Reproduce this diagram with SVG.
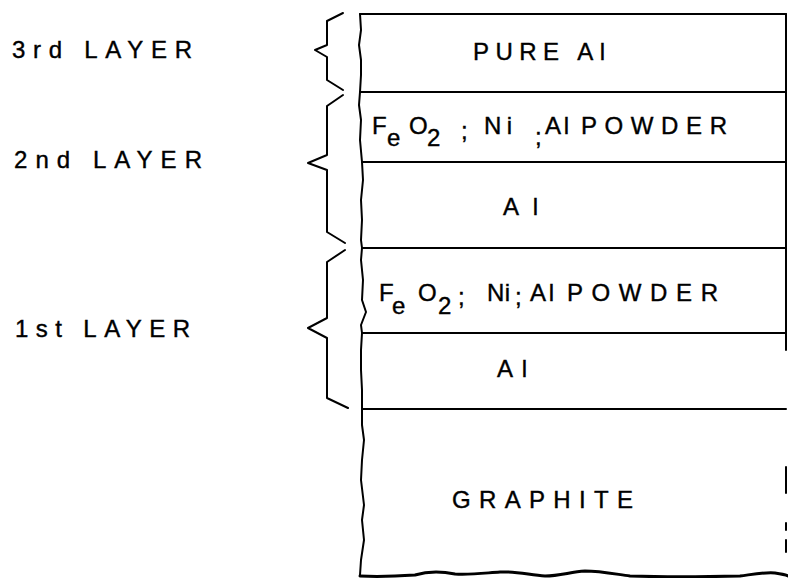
<svg xmlns="http://www.w3.org/2000/svg" width="788" height="578" viewBox="0 0 788 578">
<style>
.ln{fill:none;stroke:#000;stroke-width:2;stroke-linecap:round;stroke-linejoin:round}
.thick{fill:none;stroke:#000;stroke-width:3;stroke-linecap:round;stroke-linejoin:round}
.t{font-family:"Liberation Sans",Arial,sans-serif;font-size:24px;fill:#000;stroke:#000;stroke-width:0.4}
</style>
<rect width="788" height="578" fill="#fff"/>
<g id="labels">
<text class="t" x="12" y="58" textLength="180" lengthAdjust="spacing">3rd LAYER</text>
<text class="t" x="14" y="168" textLength="188" lengthAdjust="spacing">2nd LAYER</text>
<text class="t" x="15" y="337" textLength="175" lengthAdjust="spacing">1st LAYER</text>
</g>
<g id="connectors">
<path class="ln" d="M343,13 L327,21 L327,45 L315,50 L327,57 L327,80 L343,90"/>
<path class="ln" d="M343,95 L327,106 L327,155 L308,163 L327,170 L327,232 L345,243"/>
<path class="ln" d="M345,250 L327,262 L327,318 L308,328 L327,338 L327,398 L348,408"/>
</g>
<g id="box">
<path class="ln" d="M360,14 L361,30 L359,45 L361,60 L361,75 L360,92 L359,105 L361,120 L360,140 L362,162 L363,180 L361,200 L362,220 L361,240 L362,248 L361,260 L363,280 L362,300 L366,312 L361,325 L362,333 L361,350 L361,370 L362,390 L362,409 L362,425 L364,440 L362,460 L361,480 L364,505 L362,520 L364,540 L361,560 L360,575"/>
<path class="ln" d="M360,14 L786,14"/>
<path class="ln" d="M786,14 L786,92 M786,92 L786,162 L786,248 L786,350"/>
<path class="ln" d="M786,467 L786,493 M786,523 L786,530 M786,540 L786,552"/>
</g>
<g id="layer3">
<line class="ln" x1="360" y1="92" x2="786" y2="92"/>
<text class="t" x="473" y="60" textLength="132" lengthAdjust="spacing">PURE Al</text>
</g>
<g id="layer2-powder">
<line class="ln" x1="362" y1="162" x2="786" y2="162"/>
<text class="t" x="372" y="134">F</text>
<text class="t" x="387" y="146">e</text>
<text class="t" x="409" y="134">O</text>
<text class="t" x="427" y="146">2</text>
<text class="t" x="461" y="139">;</text>
<text class="t" x="484" y="134" textLength="28" lengthAdjust="spacing">Ni</text>
<text class="t" x="535" y="145">;</text>
<text class="t" x="545" y="134" textLength="24" lengthAdjust="spacing">Al</text>
<text class="t" x="581" y="134" textLength="146" lengthAdjust="spacing">POWDER</text>
</g>
<g id="layer2-al">
<line class="ln" x1="362" y1="248" x2="786" y2="248"/>
<text class="t" x="503" y="215" textLength="35" lengthAdjust="spacing">Al</text>
</g>
<g id="layer1-powder">
<line class="ln" x1="362" y1="333" x2="786" y2="333"/>
<text class="t" x="379" y="301">F</text>
<text class="t" x="392" y="314">e</text>
<text class="t" x="418" y="301">O</text>
<text class="t" x="438" y="314">2</text>
<text class="t" x="458" y="305">;</text>
<text class="t" x="487" y="301" textLength="23" lengthAdjust="spacing">Ni</text>
<text class="t" x="515" y="305">;</text>
<text class="t" x="530" y="301" textLength="24" lengthAdjust="spacing">Al</text>
<text class="t" x="567" y="301" textLength="151" lengthAdjust="spacing">POWDER</text>
</g>
<g id="layer1-al">
<line class="ln" x1="362" y1="409" x2="786" y2="409"/>
<text class="t" x="497" y="377" textLength="30" lengthAdjust="spacing">Al</text>
</g>
<g id="graphite">
<text class="t" x="452" y="508" textLength="181" lengthAdjust="spacing">GRAPHITE</text>
<path class="thick" d="M360,576 C380,577 400,576 415,575 C425,572 440,571 455,574 C470,575 485,573 500,572 C515,571 530,575 545,576 C560,576 570,572 585,571 C600,571 615,574 630,576 C660,577 700,577 740,576 C755,574 765,572 775,573 C782,574 786,575 788,576"/>
</g>
</svg>
